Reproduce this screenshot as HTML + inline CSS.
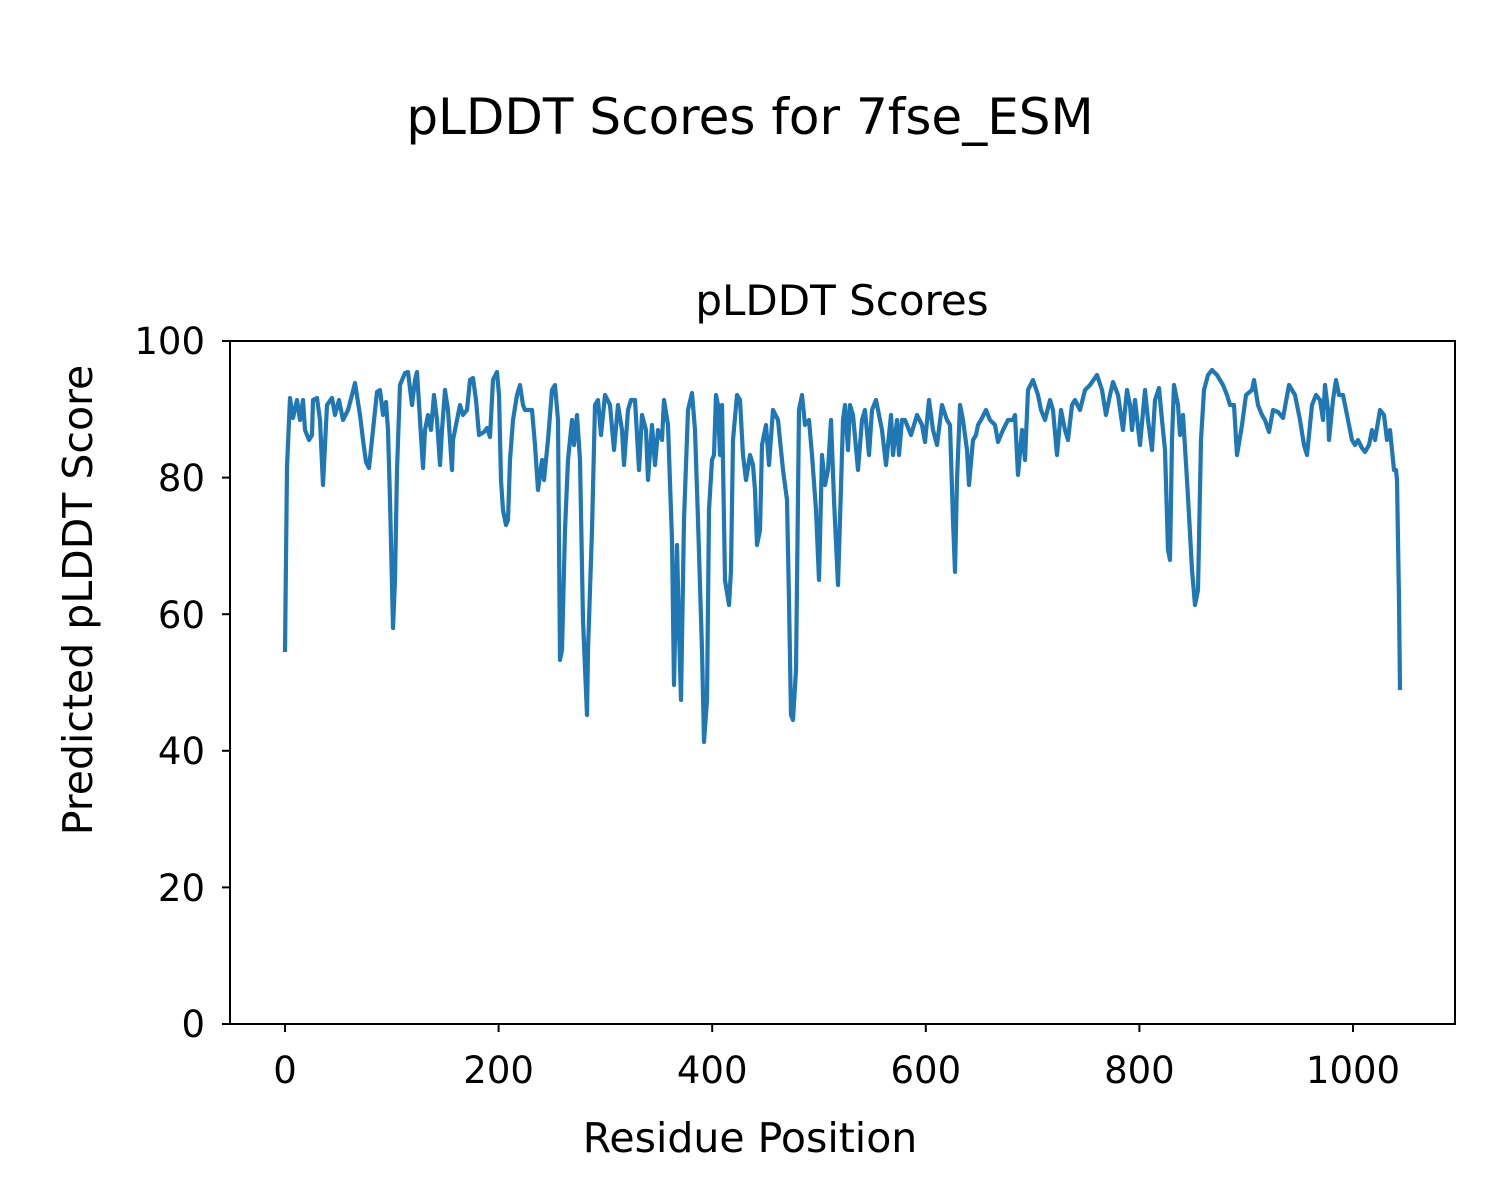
<!DOCTYPE html>
<html><head><meta charset="utf-8"><style>body{margin:0;background:#fff}svg{display:block}text{font-family:"DejaVu Sans","Liberation Sans",sans-serif;fill:#000}</style></head><body>
<svg width="1500" height="1200" viewBox="0 0 1500 1200" xmlns="http://www.w3.org/2000/svg">
<rect width="1500" height="1200" fill="#fff"/>
<text x="750" y="134" font-size="50" text-anchor="middle">pLDDT Scores for 7fse_ESM</text>
<text x="842" y="315" font-size="42" text-anchor="middle">pLDDT Scores</text>
<polyline fill="none" stroke="#1f77b4" stroke-width="4.2" stroke-linejoin="round" points="285,652 287,467 290,398 293,418 297,400 300,420 303,400 305,430 309,440 312,435 313,400 317,398 320,420 323,485 327,405 332,398 335,415 339,400 343,420 348,410 352,395 355,383 360,415 363,440 366,462 369,468 373,430 377,392 380,390 383,415 386,402 388,430 390,500 393,628 395,580 397,470 400,385 405,373 408,372 412,405 415,380 417,372 420,420 423,468 425,430 428,415 431,430 434,395 437,420 440,465 442,430 445,390 448,410 452,470 453,440 457,420 460,405 463,415 467,410 470,380 473,378 476,400 479,435 484,432 487,428 490,437 493,380 497,372 499,395 501,480 503,510 506,525 508,520 510,460 513,420 517,395 520,385 523,405 525,410 532,410 535,445 538,490 542,460 544,480 548,440 552,390 555,385 558,420 560,660 562,650 565,530 568,460 572,420 574,445 577,415 580,460 583,620 587,715 588,650 592,530 595,405 598,400 601,435 605,395 610,405 614,450 618,405 622,430 624,465 628,410 631,400 635,400 639,470 642,415 646,430 648,480 652,425 655,465 658,430 662,440 664,400 668,425 672,540 674,685 677,545 679,630 681,700 684,520 688,410 692,393 695,430 698,520 702,650 704,742 707,700 709,510 712,460 714,455 716,395 718,405 720,455 722,405 725,580 729,605 731,570 733,440 737,395 740,400 743,455 746,480 750,455 753,465 755,490 757,545 760,530 762,445 766,425 769,465 773,410 778,420 783,470 787,500 789,600 791,715 793,720 796,670 799,410 802,395 805,425 809,420 812,455 816,510 819,580 822,455 825,485 828,470 831,420 834,500 838,585 840,520 843,420 845,405 848,450 850,405 853,415 858,470 862,420 865,410 869,455 872,410 876,400 878,410 882,430 886,465 891,415 893,455 897,420 899,455 902,420 905,420 911,435 917,415 922,425 925,442 929,400 933,430 937,445 942,405 947,420 950,425 953,520 955,572 957,480 960,405 963,420 967,450 969,485 973,440 976,435 978,425 981,420 986,410 990,420 995,425 998,442 1003,430 1008,420 1013,420 1015,415 1018,475 1022,430 1025,460 1028,390 1033,380 1038,395 1041,410 1045,420 1050,400 1053,410 1057,455 1061,410 1065,430 1068,440 1072,405 1075,400 1080,410 1085,390 1090,385 1097,375 1102,390 1106,415 1110,395 1113,382 1118,395 1123,430 1127,390 1130,405 1132,430 1135,400 1140,445 1145,390 1148,420 1152,450 1155,400 1159,388 1162,420 1165,450 1168,550 1170,560 1172,440 1174,385 1178,405 1180,435 1183,415 1187,480 1189,515 1192,570 1195,605 1198,590 1201,440 1204,390 1208,375 1212,370 1217,375 1223,385 1227,395 1230,405 1234,405 1237,455 1242,425 1246,395 1252,390 1254,380 1258,405 1262,415 1265,420 1269,432 1273,410 1278,412 1283,418 1289,385 1295,395 1300,420 1304,445 1307,455 1312,405 1316,395 1320,400 1323,420 1325,385 1328,410 1329,440 1333,400 1336,380 1339,395 1343,395 1348,420 1352,440 1355,445 1358,440 1362,448 1365,452 1369,445 1372,430 1375,440 1380,410 1384,415 1387,440 1390,430 1393,460 1394,470 1396,470 1397,480 1399,600 1400,690"/>
<rect x="230" y="341" width="1225" height="683" fill="none" stroke="#000" stroke-width="2"/>
<g stroke="#000" stroke-width="2">
<line x1="230" y1="1024" x2="222" y2="1024"/><line x1="230" y1="887.4" x2="222" y2="887.4"/><line x1="230" y1="750.8" x2="222" y2="750.8"/><line x1="230" y1="614.2" x2="222" y2="614.2"/><line x1="230" y1="477.6" x2="222" y2="477.6"/><line x1="230" y1="341" x2="222" y2="341"/>
<line x1="285" y1="1024" x2="285" y2="1032"/><line x1="498.6" y1="1024" x2="498.6" y2="1032"/><line x1="712.2" y1="1024" x2="712.2" y2="1032"/><line x1="925.8" y1="1024" x2="925.8" y2="1032"/><line x1="1139.4" y1="1024" x2="1139.4" y2="1032"/><line x1="1353" y1="1024" x2="1353" y2="1032"/>
</g>
<g font-size="37" text-anchor="end">
<text x="205" y="1037">0</text><text x="205" y="901">20</text><text x="205" y="764">40</text><text x="205" y="628">60</text><text x="205" y="491">80</text><text x="205" y="354">100</text>
</g>
<g font-size="37" text-anchor="middle">
<text x="285" y="1083">0</text><text x="498.6" y="1083">200</text><text x="712.2" y="1083">400</text><text x="925.8" y="1083">600</text><text x="1139.4" y="1083">800</text><text x="1353" y="1083">1000</text>
</g>
<g font-size="41" text-anchor="middle">
<text x="750" y="1152">Residue Position</text>
<text transform="translate(92,600) rotate(-90)">Predicted pLDDT Score</text>
</g>
</svg>
</body></html>
